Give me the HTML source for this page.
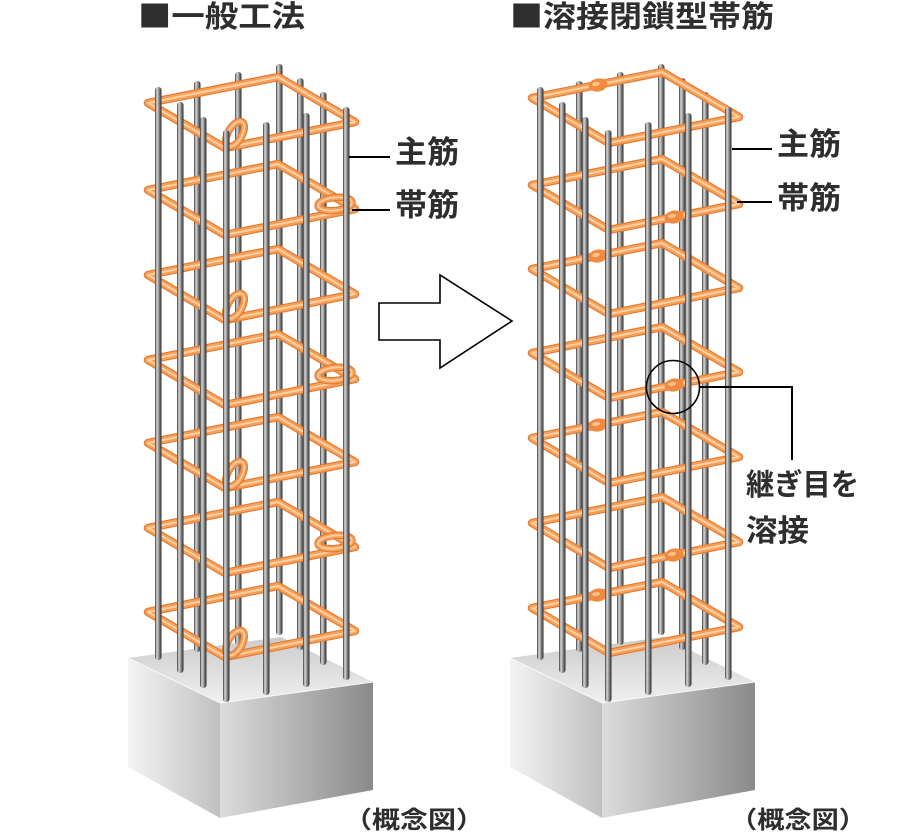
<!DOCTYPE html>
<html>
<head>
<meta charset="utf-8">
<style>
  html,body{margin:0;padding:0;background:#fff;}
  svg{display:block;}
  .t{font-family:"Liberation Sans","Noto Sans CJK JP",sans-serif;font-weight:bold;fill:#2e2e2e;}
</style>
</head>
<body>
<svg width="920" height="834" viewBox="0 0 920 834" xmlns="http://www.w3.org/2000/svg">
<defs>
  <linearGradient id="bar" x1="0" y1="0" x2="1" y2="0">
    <stop offset="0" stop-color="#383838"/>
    <stop offset="0.3" stop-color="#dcdcdc"/>
    <stop offset="0.55" stop-color="#9a9a9a"/>
    <stop offset="1" stop-color="#2a2a2a"/>
  </linearGradient>
  <linearGradient id="lf" gradientUnits="userSpaceOnUse" x1="128" y1="0" x2="220" y2="0">
    <stop offset="0" stop-color="#f4f4f4"/>
    <stop offset="1" stop-color="#c0c0c0"/>
  </linearGradient>
  <linearGradient id="ff" gradientUnits="userSpaceOnUse" x1="220" y1="0" x2="373" y2="0">
    <stop offset="0" stop-color="#dcdcdc"/>
    <stop offset="1" stop-color="#8a8a8a"/>
  </linearGradient>
  <linearGradient id="tf" gradientUnits="userSpaceOnUse" x1="0" y1="637" x2="0" y2="703">
    <stop offset="0" stop-color="#cbcbcb"/>
    <stop offset="1" stop-color="#f0f0f0"/>
  </linearGradient>

  <g id="blk">
    <polygon points="128,658 220,703 220,818 128,767" fill="url(#lf)"/>
    <polygon points="220,703 373,682 373,790 220,818" fill="url(#ff)"/>
    <polygon points="128,658 281,637 373,682 220,703" fill="url(#tf)"/>
    <polyline points="128,658 220,703 373,682" fill="none" stroke="#f8f8f8" stroke-width="1"/>
  </g>

  <g id="bb">
    <rect x="194" y="81" width="6.5" height="571" rx="3" fill="url(#bar)"/>
    <rect x="235" y="72" width="6.5" height="573" rx="3" fill="url(#bar)"/>
    <rect x="276" y="64" width="6.5" height="571" rx="3" fill="url(#bar)"/>
    <rect x="297" y="78" width="6.5" height="572" rx="3" fill="url(#bar)"/>
    <rect x="320" y="92" width="6.5" height="573" rx="3" fill="url(#bar)"/>
  </g>
  <g id="bf">
    <rect x="155" y="87" width="6.5" height="573" rx="3" fill="url(#bar)"/>
    <rect x="177" y="102" width="6.5" height="571" rx="3" fill="url(#bar)"/>
    <rect x="200" y="117" width="6.5" height="571" rx="3" fill="url(#bar)"/>
    <rect x="223" y="130" width="6.5" height="572" rx="3" fill="url(#bar)"/>
    <rect x="263" y="122" width="6.5" height="573" rx="3" fill="url(#bar)"/>
    <rect x="303" y="113" width="6.5" height="574" rx="3" fill="url(#bar)"/>
    <rect x="343" y="107" width="6.5" height="573" rx="3" fill="url(#bar)"/>
  </g>

  <g id="hoop" fill="none" stroke-linejoin="round" stroke-linecap="round">
    <path d="M0,0 L130,-26 L207,19 L77,45 Z" stroke="#e27b33" stroke-width="8.5"/>
    <path d="M0,0 L130,-26 L207,19 L77,45 Z" stroke="#f7a059" stroke-width="6.2"/>
    <path d="M0,0 L130,-26 L207,19 L77,45 Z" stroke="#ffd0a4" stroke-width="2"/>
  </g>
  <g id="hkA" fill="none">
    <ellipse cx="87" cy="31" rx="14" ry="7" transform="rotate(-60 87 31)" stroke="#e27b33" stroke-width="7.5"/>
    <ellipse cx="87" cy="31" rx="14" ry="7" transform="rotate(-60 87 31)" stroke="#f7a059" stroke-width="5.2"/>
    <ellipse cx="87" cy="31" rx="14" ry="7" transform="rotate(-60 87 31)" stroke="#ffd0a4" stroke-width="1.6"/>
  </g>
  <g id="hkB" fill="none">
    <ellipse cx="187" cy="14" rx="17" ry="6.5" transform="rotate(-6 187 14)" stroke="#e27b33" stroke-width="7.5"/>
    <ellipse cx="187" cy="14" rx="17" ry="6.5" transform="rotate(-6 187 14)" stroke="#f7a059" stroke-width="5.2"/>
    <ellipse cx="187" cy="14" rx="17" ry="6.5" transform="rotate(-6 187 14)" stroke="#ffd0a4" stroke-width="1.6"/>
  </g>
  <g id="w1">
    <ellipse cx="66" cy="-13" rx="9.5" ry="6.5" transform="rotate(-11 66 -13)" fill="#f08a40"/>
    <ellipse cx="64" cy="-14" rx="4" ry="2" transform="rotate(-11 64 -14)" fill="#ffc08a"/>
  </g>
  <g id="w2">
    <ellipse cx="142" cy="32" rx="9.5" ry="6.5" transform="rotate(-11 142 32)" fill="#f08a40"/>
    <ellipse cx="140" cy="31" rx="4" ry="2" transform="rotate(-11 140 31)" fill="#ffc08a"/>
  </g>
</defs>

<!-- Titles -->
<text class="t" x="138" y="27" font-size="30" textLength="167" lengthAdjust="spacingAndGlyphs"><tspan font-family="Noto Sans CJK JP, sans-serif">■</tspan>一般工法</text>
<text class="t" x="510" y="27" font-size="30" textLength="264" lengthAdjust="spacingAndGlyphs"><tspan font-family="Noto Sans CJK JP, sans-serif">■</tspan>溶接閉鎖型帯筋</text>

<!-- Blocks -->
<use href="#blk"/>
<use href="#blk" transform="translate(382,0)"/>

<!-- LEFT COLUMN -->
<use href="#bb"/>
<use href="#hoop" transform="translate(148,103)"/>
<use href="#hoop" transform="translate(148,190)"/>
<use href="#hoop" transform="translate(148,275)"/>
<use href="#hoop" transform="translate(148,360)"/>
<use href="#hoop" transform="translate(148,443)"/>
<use href="#hoop" transform="translate(148,528)"/>
<use href="#hoop" transform="translate(148,612)"/>
<use href="#hkA" transform="translate(148,103)"/>
<use href="#hkB" transform="translate(148,190)"/>
<use href="#hkA" transform="translate(148,275)"/>
<use href="#hkB" transform="translate(148,360)"/>
<use href="#hkA" transform="translate(148,443)"/>
<use href="#hkB" transform="translate(148,528)"/>
<use href="#hkA" transform="translate(148,612)"/>
<use href="#bf"/>

<!-- RIGHT COLUMN -->
<use href="#bb" transform="translate(382,0)"/>
<use href="#hoop" transform="translate(532,98)"/>
<use href="#hoop" transform="translate(532,185)"/>
<use href="#hoop" transform="translate(532,269)"/>
<use href="#hoop" transform="translate(532,353)"/>
<use href="#hoop" transform="translate(532,438)"/>
<use href="#hoop" transform="translate(532,523)"/>
<use href="#hoop" transform="translate(532,608)"/>
<use href="#w1" transform="translate(532,98)"/>
<use href="#w2" transform="translate(532,185)"/>
<use href="#w1" transform="translate(532,269)"/>
<use href="#w2" transform="translate(532,353)"/>
<use href="#w1" transform="translate(532,438)"/>
<use href="#w2" transform="translate(532,523)"/>
<use href="#w1" transform="translate(532,608)"/>
<use href="#bf" transform="translate(382,0)"/>

<!-- Arrow -->
<polygon points="379,303 440,303 440,275 512,321 440,368 440,340 379,340" fill="#fff" stroke="#000" stroke-width="1.6" stroke-linejoin="miter"/>

<!-- Left labels -->
<line x1="349" y1="157" x2="390" y2="157" stroke="#000" stroke-width="2"/>
<line x1="352" y1="210" x2="390" y2="210" stroke="#000" stroke-width="2"/>
<text class="t" x="395" y="163" font-size="31" textLength="64" lengthAdjust="spacingAndGlyphs">主筋</text>
<text class="t" x="395" y="216" font-size="31" textLength="64" lengthAdjust="spacingAndGlyphs">帯筋</text>

<!-- Right labels -->
<line x1="732" y1="149" x2="772" y2="149" stroke="#000" stroke-width="2"/>
<line x1="737" y1="202" x2="772" y2="202" stroke="#000" stroke-width="2"/>
<text class="t" x="777" y="155" font-size="31" textLength="64" lengthAdjust="spacingAndGlyphs">主筋</text>
<text class="t" x="777" y="209" font-size="31" textLength="64" lengthAdjust="spacingAndGlyphs">帯筋</text>

<!-- Weld callout -->
<circle cx="673" cy="387" r="26.5" fill="none" stroke="#000" stroke-width="1.6"/>
<polyline points="699,387 792,387 792,460" fill="none" stroke="#000" stroke-width="2"/>
<text class="t" x="746" y="495" font-size="30" textLength="113" lengthAdjust="spacingAndGlyphs">継ぎ目を</text>
<text class="t" x="746" y="541" font-size="30" textLength="63" lengthAdjust="spacingAndGlyphs">溶接</text>

<!-- Captions -->
<text class="t" x="344" y="828" font-size="24" textLength="140" lengthAdjust="spacingAndGlyphs">（概念図）</text>
<text class="t" x="730" y="828" font-size="24" textLength="136" lengthAdjust="spacingAndGlyphs">（概念図）</text>
</svg>
</body>
</html>
